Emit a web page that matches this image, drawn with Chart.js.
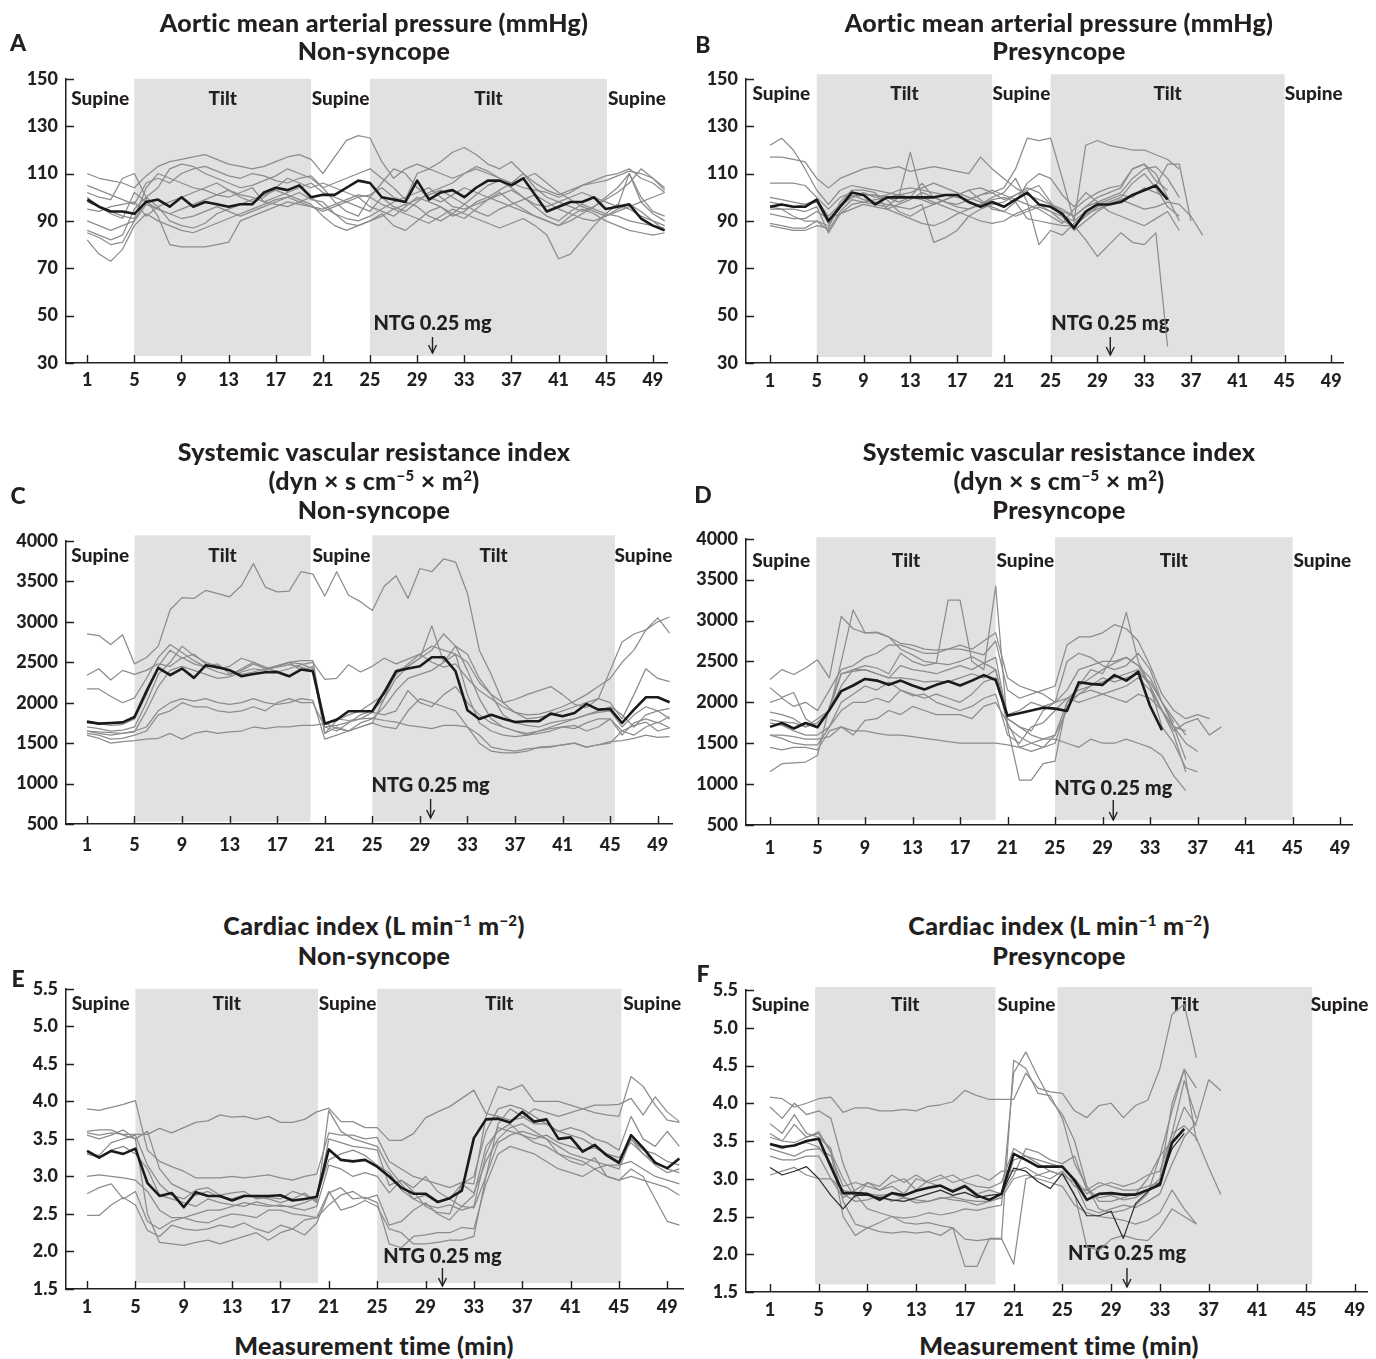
<!DOCTYPE html>
<html><head><meta charset="utf-8">
<script src="https://cdn.jsdelivr.net/npm/chart.js@4.4.1/dist/chart.umd.min.js"></script>
<style>
html,body{margin:0;padding:0;background:#fff;}
#wrap{position:relative;width:1376px;height:1359px;overflow:hidden;font-family:Lato,"DejaVu Sans",sans-serif;font-weight:900;color:#231f20;}
#charts canvas{position:absolute;}
.t{position:absolute;width:700px;text-align:center;font-size:25px;letter-spacing:0.3px;white-space:nowrap;}
.lt{position:absolute;font-size:23px;line-height:23px;transform:translate(-50%,-50%);}
sup{font-size:0.6em;line-height:0;vertical-align:0.6em;}
</style></head>
<body><div id="wrap">
<div id="charts"></div>
<div class="t" style="left:24px;top:8px;line-height:28px">Aortic mean arterial pressure (mmHg)<br>Non-syncope</div>
<div class="t" style="left:709px;top:8px;line-height:28px">Aortic mean arterial pressure (mmHg)<br>Presyncope</div>
<div class="t" style="left:24px;top:437px;line-height:29px">Systemic vascular resistance index<br>(dyn × s cm<sup>−5</sup> × m<sup>2</sup>)<br>Non-syncope</div>
<div class="t" style="left:709px;top:437px;line-height:29px">Systemic vascular resistance index<br>(dyn × s cm<sup>−5</sup> × m<sup>2</sup>)<br>Presyncope</div>
<div class="t" style="left:24px;top:910px;line-height:30px">Cardiac index (L min<sup>−1</sup> m<sup>−2</sup>)<br>Non-syncope</div>
<div class="t" style="left:709px;top:910px;line-height:30px">Cardiac index (L min<sup>−1</sup> m<sup>−2</sup>)<br>Presyncope</div>
<div class="t" style="left:24px;top:1331px;line-height:28px">Measurement time (min)</div>
<div class="t" style="left:709px;top:1331px;line-height:28px">Measurement time (min)</div>
<div class="lt" style="left:18px;top:42px">A</div>
<div class="lt" style="left:703px;top:44px">B</div>
<div class="lt" style="left:18px;top:495px">C</div>
<div class="lt" style="left:703px;top:494px">D</div>
<div class="lt" style="left:18px;top:978px">E</div>
<div class="lt" style="left:703px;top:973px">F</div>
</div>
<script>
// ---------- axis ticks & labels ----------
const xTicks = [1,5,9,13,17,21,25,29,33,37,41,45,49];
const xTickLabels = ['1','5','9','13','17','21','25','29','33','37','41','45','49'];
const yTicksMAP = [30,50,70,90,110,130,150];
const yTickLabelsMAP = ['30','50','70','90','110','130','150'];
const yTicksSVRI = [500,1000,1500,2000,2500,3000,3500,4000];
const yTickLabelsSVRI = ['500','1000','1500','2000','2500','3000','3500','4000'];
const yTicksCI = [1.5,2.0,2.5,3.0,3.5,4.0,4.5,5.0,5.5];
const yTickLabelsCI = ['1.5','2.0','2.5','3.0','3.5','4.0','4.5','5.0','5.5'];
const phaseNames = ['Supine','Tilt','Supine','Tilt','Supine'];
const ntgLabel = 'NTG 0.25 mg';
const ntgTime = [30.3, 30.1, 29.9, 29.9, 30.4, 30.3];
// phase boundaries (min)
const phaseEdgesA = [5,20,25,45.1];
const phaseEdgesB = [5,20,25,45];
const phaseEdgesC = [5,19.8,25,45.4];
const phaseEdgesD = [4.9,20,25,45];
const phaseEdgesE = [5,20.1,25,45.2];
const phaseEdgesF = [4.7,19.5,24.6,45.5];

// ---------- Panel A: MAP, non-syncope ----------
const meanA = [99,96,94,94,93, 98,99,96,100,96, 98,97,96,97,97, 102,104,103,105,100, 101,101,104,107,106, 100,99,98,107,99, 102,103,100,104,107, 107,105,108,101,94, 96,98,98,100,95, 96,97,91,88,86];
const a1 = [110,108,107,106,104, 109,113,115,116,117, 118,116,114,113,112, 113,115,117,118,116, 110,117,124,126,125, 115,108,112,114,112, 110,108,110,113,111, 108,106,104,103,102, 100,102,105,106,107, 109,111,110,108,104];
const a2 = [102,100,99,108,110, 100,104,112,114,113, 110,108,106,104,105, 107,109,112,110,108, 104,106,108,110,112, 108,104,99,110,112, 115,119,121,118,114, 112,115,110,106,103, 101,103,105,107,109, 110,112,108,106,102];
const a3 = [98,96,94,92,91, 104,110,108,106,104, 103,101,100,102,104, 98,100,102,104,106, 102,100,98,96,94, 100,96,94,98,102, 104,106,110,112,110, 108,106,110,104,100, 98,96,94,96,100, 104,110,100,94,92];
const a4 = [90,88,86,88,90, 97,95,93,95,97, 99,101,103,101,100, 98,97,96,98,100, 96,93,89,88,90, 92,95,97,99,101, 103,100,97,94,92, 95,97,99,101,98, 95,93,91,90,92, 95,97,94,90,86];
const a5 = [86,84,82,84,95, 100,96,90,88,87, 89,93,95,97,99, 101,103,101,99,97, 92,88,86,88,90, 93,88,86,90,94, 96,93,91,95,99, 102,98,95,92,90, 88,92,95,93,90, 88,86,85,84,85];
const a6 = [82,76,73,78,88, 93,90,88,86,85, 87,89,91,93,95, 97,99,100,98,96, 94,96,98,100,101, 104,100,98,96,92, 90,93,97,101,105, 107,104,100,96,92, 90,94,97,95,93, 92,90,89,88,87];
const a7 = [85,83,80,81,90, 99,92,80,79,79, 79,80,81,90,92, 94,96,98,97,96, 95,97,99,101,100, 97,95,93,91,89, 92,95,93,91,89, 87,89,91,88,84, 74,76,82,88,93, 97,95,92,90,88];
const a8 = [100,96,93,91,102, 98,95,93,91,92, 94,96,94,92,94, 96,98,100,102,99, 98,93,91,90,92, 95,98,100,102,104, 100,96,95,97,99, 101,103,100,97,96, 98,100,102,100,98, 96,110,98,93,90];
const a9 = [95,94,96,97,98, 92,96,98,100,102, 104,106,103,100,98, 100,104,108,106,104, 106,104,102,100,96, 94,92,96,100,98, 96,92,94,98,100, 98,96,94,92,90, 88,90,93,96,99, 102,106,112,108,103];
const a10 = [105,103,101,99,97, 106,108,106,110,112, 113,111,109,108,110, 109,107,106,108,109, 104,98,94,92,100, 106,112,110,104,100, 98,101,104,102,100, 103,106,108,110,106, 102,99,96,94,92, 94,96,98,100,102];

// ---------- Panel B: MAP, presyncope ----------
const meanB = [96,97,96,96,99, 90,96,102,101,97, 100,100,100,100,100, 101,101,98,96,98, 96,99,102,97,96, 93,87,94,97,97, 98,101,103,105,99];
const b1 = [122,125,120,112,103, 97,103,105,104,103, 102,101,100,99,97, 99,101,103,104,102, 104,112,125,124,125, 108,90,122,124,122, 121,120,120,118,116, 112];
const b2 = [117,117,116,115,108, 104,108,110,112,113, 112,113,111,112,113, 112,111,110,117,112, 108,104,101,99,97, 95,92,96,100,102, 104,112,114,107,103];
const b3 = [106,106,106,105,100, 95,100,102,101,101, 100,98,100,106,100, 98,97,99,101,103, 101,99,97,95,92, 89,95,99,102,104, 105,112,114,110,100, 90];
const b4 = [98,97,96,97,98, 89,96,101,99,98, 97,96,95,97,81, 83,86,92,95,97, 98,101,104,102,97, 94,92,96,98,100, 102,108,112,113,108, 100];
const b5 = [95,95,92,90,90, 86,94,99,98,97, 96,100,119,100,98, 96,94,92,90,89, 90,93,95,97,94, 90,88,92,96,98, 100,106,110,104,96, 92];
const b6 = [89,88,87,87,90, 88,96,100,101,101, 99,94,92,95,97, 99,101,103,99,95, 94,98,106,110,108, 101,96,102,98,94, 92,90,88,91,94, 86];
const b7 = [88,87,86,86,88, 87,98,103,103,102, 95,93,91,89,88, 90,93,95,97,99, 100,98,91,90,89, 88,88,82,75,80, 85,81,80,85,37];
const b8 = [93,92,91,91,94, 91,93,95,97,96, 95,97,99,102,100, 98,96,95,97,100, 102,108,98,80,86, 84,89,93,95,97, 99,97,95,96,98, 97,92,84];
const b9 = [100,99,98,97,99, 92,97,100,102,100, 101,103,104,103,102, 101,100,99,101,102, 99,101,103,105,98, 92,86,90,94,97, 99,101,103,105,114, 114,90];
const b10 = [96,95,95,94,96, 85,93,97,98,99, 100,101,102,104,106, 104,102,100,98,96, 94,92,94,96,94, 92,90,94,97,99, 101,100,104,102,100];

// ---------- Panel C: SVRI, non-syncope ----------
const meanC = [1766,1741,1749,1757,1823, 2140,2431,2340,2422,2307, 2464,2439,2402,2327,2356, 2377,2381,2327,2410,2389, 1741,1790,1894,1894,1894, 2129,2389,2422,2451,2563, 2563,2389,1906,1799,1852, 1803,1761,1770,1770,1865, 1832,1873,1985,1914,1923, 1749,1914,2067,2067,2005];
const c1 = [2850,2830,2720,2840,2480, 2560,2700,3150,3300,3290, 3390,3350,3310,3450,3720, 3430,3370,3380,3620,3590, 3320,3620,3330,3250,3140, 3440,3570,3290,3660,3620, 3780,3740,3350,2650,2350, 2000,2040,2100,2150,2200, 2100,1980,1940,2050,2400, 2750,2850,2900,3000,3060];
const c2 = [2340,2420,2280,2400,2350, 2400,2480,2450,2560,2480, 2440,2380,2340,2420,2500, 2440,2380,2420,2470,2500, 2290,2300,2470,2380,2450, 2550,2480,2540,2600,2500, 2440,2480,2300,2150,2050, 1950,1880,1850,1860,1900, 1950,2020,2100,2200,2300, 2500,2650,2900,3050,2860];
const c3 = [2170,2170,2080,2000,2060, 2300,2560,2720,2620,2520, 2440,2480,2360,2400,2480, 2420,2440,2470,2440,2400, 1620,1780,1850,1900,2000, 2100,2350,2480,2600,2700, 2650,2600,2500,2250,2100, 2000,1880,1800,1820,1850, 1900,1950,2000,2050,2000, 1800,2100,2420,2300,2260];
const c4 = [1700,1680,1650,1660,1700, 2000,2350,2500,2700,2580, 2500,2450,2400,2350,2380, 2420,2460,2500,2520,2520, 1700,1650,1750,1850,1900, 2050,2300,2450,2550,2950, 2500,2700,2400,2050,1800, 1700,1650,1600,1650,1700, 1750,1800,1850,1900,1950, 1850,1700,1850,1900,1930];
const c5 = [1650,1640,1630,1620,1640, 1900,2200,2400,2450,2400, 2350,2300,2320,2380,2420, 2400,2450,2500,2400,2450, 1620,1700,1650,1750,1800, 1950,2150,2300,2350,2400, 2500,2600,2100,1750,1650, 1600,1580,1600,1620,1650, 1700,1680,1750,1800,1800, 1600,1750,1800,1750,1830];
const c6 = [1620,1600,1550,1560,1600, 1650,1850,1900,2000,1950, 1950,1900,1880,1900,1950, 1900,2000,2050,2000,2000, 1700,1720,1760,1800,1880, 1850,1900,2150,2000,1950, 2100,2200,2000,1850,1750, 1700,1650,1620,1650,1680, 1700,1720,1650,1700,1800, 1650,1720,1760,1650,1690];
const c7 = [1600,1560,1500,1520,1530, 1550,1560,1620,1550,1620, 1650,1620,1640,1650,1700, 1680,1700,1700,1720,1720, 1740,1800,1780,1800,1810, 1780,1760,1720,1700,1680, 1720,1720,1700,1600,1450, 1420,1400,1430,1440,1450, 1480,1500,1450,1480,1520, 1530,1560,1600,1570,1580];
const c8 = [1650,1620,1600,1620,1650, 1700,1900,2000,2050,2020, 2050,2000,1980,2000,2050, 2000,1980,2000,2050,2030, 1550,1600,1650,1700,1750, 1700,1680,1900,2050,2000, 1950,1900,1700,1500,1400, 1380,1380,1400,1450,1460, 1480,1500,1450,1480,1500, 1650,1600,1700,1760,1690];
const c9 = [1750,1740,1720,1730,1800, 2100,2450,2650,2550,2600, 2480,2420,2450,2550,2500, 2420,2450,2500,2480,2420, 1750,1680,1650,1700,1750, 2050,2400,2450,2550,2650, 2850,2700,2600,2300,2100, 1850,1750,1720,1700,1750, 1780,1800,1850,1880,1900, 1700,1850,1950,1900,1800];

// ---------- Panel D: SVRI, presyncope ----------
const meanD = [1700,1748,1680,1748,1696, 1907,2138,2206,2286,2266, 2214,2266,2206,2158,2214, 2258,2206,2266,2333,2274, 1835,1867,1899,1935,1923, 1895,2246,2226,2214,2333, 2266,2373,1955,1660];
const d1 = [2280,2400,2340,2420,2520, 2300,3050,2900,2850,2850, 2800,2720,2700,2650,2640, 2650,2650,2620,2580,2750, 2150,2050,2100,2150,2200, 2700,2800,2800,2850,2950, 2900,2750,2450,2100,1900, 1800,1850,1800];
const d2 = [2180,2060,2120,1800,1700, 1900,2500,3130,2850,2860, 2800,2650,2580,2500,2480, 2460,2500,2560,2480,2550, 1800,1700,1600,1550,1600, 2000,2200,2400,2350,2600, 3100,2500,2200,1700,1500, 1200,1150];
const d3 = [1880,1850,1800,1700,1750, 1900,2200,2400,2450,2420, 2350,2600,2500,2450,2480, 3250,3250,2500,2400,3420, 1700,1580,1500,1450,1600, 1900,2200,2300,2400,2480, 2550,2450,2300,2000,1700, 1300];
const d4 = [1790,1760,1750,1700,1800, 1900,2350,2380,2400,2350, 2300,2450,2400,2380,2350, 2400,2450,2400,2480,2400, 1850,1900,2000,1950,2000, 2150,2400,2450,2500,2500, 2550,2450,2200,1900,1650, 1750,1800,1600,1700];
const d5 = [1750,1720,1650,1600,1600, 1700,2000,2100,2200,2150, 2250,2150,2100,2050,2100, 2050,2000,2100,2250,2300, 1800,1700,1650,1900,2000, 2050,2150,2200,2300,2250, 2300,2350,2250,2000,1800, 1600];
const d6 = [1600,1560,1500,1480,1480, 1700,1900,2000,2000,2050, 2000,2150,2080,2100,2000, 1950,1900,1950,2050,2100, 1600,1500,1700,1750,1900, 2050,2000,2050,2100,2150, 2200,2300,2150,1900,1700, 1500,1400];
const d7 = [1450,1420,1450,1450,1420, 1650,1700,1600,1780,1800, 1900,1850,1950,1900,1850, 1850,1850,1800,1950,2000, 1750,1450,1400,1450,1500, 1950,2100,2150,2100,2050, 2000,2100,2050,1900,1600, 1150];
const d8 = [1150,1250,1260,1270,1350, 1950,2350,2400,2400,2350, 2300,2300,2280,2250,2260, 2250,2300,2350,2300,2400, 1700,1050,1050,1250,1280, 2000,2100,2200,2250,2300, 2350,2400,2200,1900,1700, 1650];
const d9 = [1600,1600,1580,1550,1550, 1580,1700,1650,1650,1620, 1600,1600,1580,1560,1540, 1520,1500,1500,1500,1500, 1480,1450,1500,1550,1550, 1500,1450,1550,1500,1500, 1550,1500,1450,1350,1100, 920];
const d10 = [2000,2050,1950,2000,1900, 2150,2400,2450,2550,2600, 2700,2700,2650,2600,2600, 2650,2700,2650,2750,2850, 2300,2200,2150,2100,2000, 2500,2600,2550,2450,2400, 2450,2600,2400,2000,1750];

// ---------- Panel E: CI, non-syncope ----------
const meanE = [3.34,3.25,3.34,3.30,3.37, 2.91,2.74,2.78,2.59,2.79, 2.74,2.74,2.68,2.74,2.74, 2.74,2.75,2.68,2.70,2.73, 3.36,3.22,3.20,3.22,3.13, 3.00,2.85,2.77,2.77,2.66, 2.71,2.81,3.51,3.76,3.77, 3.72,3.86,3.73,3.76,3.50, 3.52,3.33,3.42,3.28,3.18, 3.55,3.38,3.18,3.11,3.24];
const e1 = [3.58,3.55,3.58,3.56,3.56, 3.56,3.64,3.58,3.65,3.72, 3.74,3.82,3.79,3.80,3.76, 3.80,3.72,3.72,3.76,3.86, 3.91,3.73,3.73,3.65,3.65, 3.48,3.48,3.57,3.78,3.86, 3.93,4.04,4.15,3.84,3.80, 3.75,3.78,3.90,3.85,3.80, 3.85,3.90,3.95,3.95,3.96, 4.04,3.82,4.06,3.86,3.73];
const e2 = [3.90,3.88,3.92,3.96,4.01, 3.35,3.20,3.13,3.07,2.98, 2.98,2.98,3.00,2.98,3.00, 3.02,2.98,2.95,3.00,3.03, 3.58,3.55,3.55,3.50,3.52, 3.20,3.10,3.00,2.95,2.90, 2.85,2.92,2.90,3.80,4.20, 4.15,4.22,4.00,4.00,4.00, 3.95,3.90,3.85,3.82,3.80, 4.33,4.20,3.95,3.75,3.72];
const e3 = [3.55,3.50,3.55,3.62,3.50, 3.60,3.10,2.90,2.82,2.75, 2.80,2.72,2.70,2.75,2.72, 2.70,2.65,2.70,2.78,2.65, 3.88,3.60,3.50,3.45,3.40, 3.10,2.90,2.70,2.75,2.65, 2.70,2.60,2.58,3.00,3.70, 3.90,3.80,3.70,3.70,3.60, 3.55,3.50,3.40,3.30,3.20, 3.50,3.35,3.30,3.20,3.15];
const e4 = [3.30,3.25,3.35,3.40,3.30, 3.10,2.75,2.70,2.65,2.60, 2.70,2.65,2.62,2.60,2.66, 2.62,2.60,2.60,2.65,2.72, 3.22,3.30,3.35,3.28,3.15, 3.05,2.82,2.70,2.62,2.58, 2.62,2.55,2.60,3.30,3.65, 3.60,3.55,3.50,3.55,3.45, 3.40,3.35,3.38,3.30,3.25, 3.45,3.30,3.15,3.05,3.10];
const e5 = [3.00,3.02,3.00,2.98,2.95, 2.80,2.55,2.45,2.45,2.50, 2.55,2.55,2.60,2.65,2.62, 2.60,2.62,2.58,2.55,2.60, 3.15,3.10,3.00,3.05,3.00, 2.78,2.95,2.85,3.00,2.80, 2.70,2.90,2.78,3.20,3.50, 3.65,3.70,3.60,3.50,3.30, 3.20,3.15,3.25,3.00,2.95, 3.00,2.95,2.90,2.85,2.75];
const e6 = [2.77,2.85,2.90,2.70,2.80, 2.40,2.30,2.40,2.45,2.40, 2.38,2.45,2.50,2.48,2.45, 2.55,2.55,2.50,2.48,2.45, 2.62,2.75,2.80,2.70,2.75, 2.35,2.40,2.55,2.65,2.50, 2.42,2.60,2.75,3.40,3.60, 3.70,3.55,3.45,3.40,3.30, 3.25,3.20,3.10,3.00,2.95, 3.10,3.00,2.70,2.40,2.35];
const e7 = [2.48,2.48,2.62,2.72,2.62, 2.28,2.20,2.35,2.30,2.28, 2.30,2.35,2.32,2.38,2.30, 2.25,2.35,2.30,2.22,2.38, 2.78,2.85,2.70,2.72,2.65, 2.10,2.05,2.20,2.22,2.25, 2.25,2.32,2.30,2.90,3.30, 3.40,3.35,3.30,3.20,3.10, 3.05,3.00,3.10,3.15,3.15, 3.20,3.10,3.00,2.95,2.90];
const e8 = [3.60,3.62,3.62,3.55,3.50, 2.50,2.12,2.10,2.08,2.12, 2.15,2.10,2.15,2.20,2.25, 2.15,2.25,2.30,2.42,2.45, 2.80,2.55,2.60,2.68,2.60, 2.30,2.25,2.10,2.10,2.12, 2.15,2.15,2.20,3.00,3.45, 3.55,3.60,3.55,3.50,3.40, 3.30,3.25,3.20,3.15,3.10, 3.50,3.30,3.20,3.10,3.05];
const e9 = [3.30,3.28,3.45,3.50,3.55, 3.15,2.90,2.75,2.70,2.82, 2.85,2.75,2.78,2.80,2.70, 2.72,2.70,2.80,2.75,2.68, 3.50,3.45,3.40,3.38,3.35, 2.88,2.95,2.80,2.60,2.52, 2.50,2.90,3.00,3.60,3.90, 3.95,3.90,3.80,3.70,3.60, 3.65,3.60,3.50,3.45,3.35, 3.80,3.50,3.40,3.60,3.40];

// ---------- Panel F: CI, presyncope ----------
const meanF = [3.46,3.42,3.44,3.50,3.53, 3.16,2.81,2.81,2.80,2.72, 2.81,2.78,2.84,2.88,2.91, 2.83,2.90,2.78,2.72,2.80, 3.33,3.25,3.16,3.16,3.16, 2.98,2.72,2.80,2.81,2.79, 2.79,2.85,2.92,3.48,3.66];
const darkF = [3.15,3.05,3.10,3.16,3.00, 2.78,2.60,2.78,2.78,2.75, 2.72,2.70,2.75,2.80,2.85, 2.78,2.82,2.75,2.78,2.80, 3.14,3.10,2.96,2.87,3.07, 2.78,2.51,2.51,2.57,2.21, 2.67,2.83,2.95,3.40,3.60];
const f1 = [4.08,4.06,3.95,4.00,4.06, 4.08,3.88,3.94,3.94,3.90, 3.90,3.92,3.90,3.96,3.98, 4.02,4.17,4.10,4.05,4.05, 4.05,4.40,4.20,4.15,4.13, 3.90,3.81,3.97,4.00,3.81, 3.97,4.04,4.46,5.18,5.31, 4.60];
const f2 = [3.95,3.80,4.00,3.85,3.90, 3.80,3.20,2.80,2.60,2.55, 2.50,2.48,2.50,2.55,2.52, 2.55,2.60,2.58,2.62,2.65, 4.40,4.68,4.35,4.05,3.85, 3.50,2.90,2.60,2.55,2.58, 2.65,2.80,3.30,3.90,4.45, 4.20];
const f3 = [3.73,3.60,3.85,3.60,3.55, 3.40,2.70,2.40,2.35,2.30, 2.28,2.30,2.28,2.30,2.25, 2.35,2.20,2.18,2.20,2.20, 4.57,4.46,4.13,4.10,3.80, 3.20,2.90,2.70,2.70,2.75, 2.80,3.00,3.30,3.50,3.95, 3.70];
const f4 = [3.60,3.50,3.72,3.55,3.62, 3.35,2.50,2.25,2.35,2.42, 2.50,2.42,2.40,2.42,2.38, 2.35,1.84,1.84,2.21,2.21, 1.87,3.00,3.05,3.10,3.05, 2.80,2.10,2.05,2.20,2.25, 2.20,2.18,2.35,2.60,2.50, 2.40];
const f5 = [3.55,3.50,3.48,3.55,3.60, 3.35,3.00,2.75,2.95,2.85, 2.90,2.80,3.00,2.95,3.00, 3.05,2.95,2.90,2.88,2.95, 3.40,3.30,3.25,3.20,3.15, 3.00,2.80,2.90,2.95,2.90, 2.95,3.05,3.10,3.60,3.70, 3.54,3.15,2.79];
const f6 = [3.45,3.40,3.45,3.48,3.42, 3.20,2.80,2.70,2.72,2.78, 2.70,2.75,2.68,2.70,2.75, 2.72,2.70,2.65,2.70,2.75, 3.25,3.30,3.20,3.10,3.05, 2.95,2.60,2.55,2.60,2.65, 2.62,2.70,2.80,3.20,3.55, 3.75,4.31,4.17];
const f7 = [3.40,3.35,3.30,3.38,3.40, 3.30,2.90,2.95,2.90,2.85, 2.95,3.00,2.85,2.98,3.05, 2.95,3.00,3.05,2.98,3.10, 3.10,3.15,3.05,3.00,3.10, 2.90,2.85,2.75,2.78,2.72, 2.75,2.85,3.00,4.00,4.45, 3.50];
const f8 = [3.30,3.25,3.25,3.30,3.30, 3.00,2.75,2.85,2.95,2.90, 3.05,2.95,3.05,2.95,2.90, 2.85,2.92,2.80,2.85,2.80, 3.05,3.40,3.35,3.25,3.20, 3.30,2.85,2.95,2.90,2.85, 2.85,2.90,2.95,3.60,4.30, 3.80];
const f9 = [3.05,3.10,3.15,3.05,3.00, 3.00,2.85,2.80,2.80,2.78, 2.80,2.75,2.72,2.70,2.74, 2.76,2.72,2.70,2.70,2.75, 3.00,3.05,3.00,2.95,2.90, 2.65,2.55,2.50,2.48,2.45, 2.40,2.45,2.55,2.85,2.60, 2.40];

// ---------- layout (style only) ----------
const panels = [
  {left:0,   top:60,  w:688, h:340, padT:13, padR:21, yW:66, xH:37, xMin:-0.8,  xMax:50.2, yMin:30,  yMax:150,  yTicks:yTicksMAP,  yLabels:yTickLabelsMAP,  edges:phaseEdgesA, shadeTop:150, shadeBot:33, mean:meanA, gray:[a1,a2,a3,a4,a5,a6,a7,a8,a9,a10], labelDy:20, ntg:ntgTime[0], ntgDy:39, arT:26, arB:10, xPad:6},
  {left:688, top:60,  w:688, h:340, padT:19, padR:33, yW:58, xH:37, xMin:-1.05, xMax:50.0, yMin:30,  yMax:150,  yTicks:yTicksMAP,  yLabels:yTickLabelsMAP,  edges:phaseEdgesB, shadeTop:152, shadeBot:32.5, mean:meanB, gray:[b1,b2,b3,b4,b5,b6,b7,b8,b9,b10], labelDy:15, ntg:ntgTime[1], ntgDy:39, arT:26, arB:8, xPad:7},
  {left:0,   top:520, w:688, h:340, padT:21, padR:16, yW:66, xH:36, xMin:-0.76, xMax:50.2, yMin:500, yMax:4000, yTicks:yTicksSVRI, yLabels:yTickLabelsSVRI, edges:phaseEdgesC, shadeTop:4070, shadeBot:530, mean:meanC, gray:[c1,c2,c3,c4,c5,c6,c7,c8,c9], labelDy:15, ntg:ntgTime[2], ntgDy:38, arT:25, arB:6, xPad:10},
  {left:688, top:520, w:688, h:340, padT:13, padR:24, yW:58, xH:35, xMin:-1.02, xMax:50.0, yMin:500, yMax:4000, yTicks:yTicksSVRI, yLabels:yTickLabelsSVRI, edges:phaseEdgesD, shadeTop:4020, shadeBot:559, mean:meanD, gray:[d1,d2,d3,d4,d5,d6,d7,d8,d9,d10], labelDy:22, ntg:ntgTime[3], ntgDy:36, arT:25, arB:5, xPad:12},
  {left:0,   top:970, w:688, h:350, padT:15, padR:5,  yW:66, xH:31, xMin:-0.74, xMax:50.3, yMin:1.5, yMax:5.5,  yTicks:yTicksCI,   yLabels:yTickLabelsCI,   edges:phaseEdgesE, shadeTop:5.5, shadeBot:1.58, mean:meanE, gray:[e1,e2,e3,e4,e5,e6,e7,e8,e9], labelDy:15, ntg:ntgTime[4], ntgDy:32, arT:21, arB:3, xPad:7},
  {left:688, top:970, w:688, h:350, padT:20, padR:9,  yW:58, xH:28, xMin:-0.97, xMax:50.0, yMin:1.5, yMax:5.5,  yTicks:yTicksCI,   yLabels:yTickLabelsCI,   edges:phaseEdgesF, shadeTop:5.54, shadeBot:1.6, mean:meanF, dark:darkF, gray:[f1,f2,f3,f4,f5,f6,f7,f8,f9], labelDy:15, ntg:ntgTime[5], ntgDy:38, arT:24, arB:5, xPad:7}
];

const INK = '#231f20';
const FONT = 'Lato, "DejaVu Sans", sans-serif';
const W = '900';

const panelPlugin = {
  id: 'panelDeco',
  beforeDatasetsDraw(chart, args, p) {
    const {ctx, chartArea} = chart;
    const x = chart.scales.x, y = chart.scales.y;
    ctx.save();
    // tilt shading
    ctx.fillStyle = '#e0e1e3';
    const e = p.edges;
    [[e[0], e[1]], [e[2], e[3]]].forEach(([a, b]) => {
      const x0 = x.getPixelForValue(a), x1 = x.getPixelForValue(b);
      const y0 = y.getPixelForValue(p.shadeTop), y1 = y.getPixelForValue(p.shadeBot);
      ctx.fillRect(x0, y0, x1 - x0, y1 - y0);
    });
    // phase labels
    ctx.fillStyle = INK;
    ctx.font = W + ' 19px ' + FONT;
    ctx.textAlign = 'center';
    ctx.textBaseline = 'middle';
    const b = [p.xMin, ...e, p.xMax];
    phaseNames.forEach((n, i) => {
      const cx = (x.getPixelForValue(b[i]) + x.getPixelForValue(b[i + 1])) / 2;
      ctx.fillText(n, cx, chartArea.top + p.labelDy);
    });
    // NTG annotation
    const nx = x.getPixelForValue(p.ntg);
    ctx.font = W + ' 20px ' + FONT;
    ctx.fillText(ntgLabel, nx, chartArea.bottom - p.ntgDy);
    ctx.strokeStyle = INK; ctx.lineWidth = 1.4;
    const yt = chartArea.bottom - p.arT, yb = chartArea.bottom - p.arB;
    ctx.beginPath(); ctx.moveTo(nx, yt); ctx.lineTo(nx, yb); ctx.stroke();
    ctx.beginPath(); ctx.moveTo(nx - 4, yb - 8); ctx.lineTo(nx, yb); ctx.lineTo(nx + 4, yb - 8); ctx.stroke();
    ctx.restore();
  },
  afterDraw(chart, args, p) {
    const {ctx, chartArea} = chart;
    const x = chart.scales.x, y = chart.scales.y;
    ctx.save();
    ctx.strokeStyle = INK; ctx.lineWidth = 1.4;
    ctx.beginPath();
    xTicks.forEach(v => { const px = Math.round(x.getPixelForValue(v)) + 0.5; ctx.moveTo(px, chartArea.bottom); ctx.lineTo(px, chartArea.bottom - 8); });
    p.yTicks.forEach(v => { const py = Math.round(y.getPixelForValue(v)) + 0.5; ctx.moveTo(chartArea.left, py); ctx.lineTo(chartArea.left + 8, py); });
    ctx.stroke();
    ctx.restore();
  }
};

function toXY(arr) { return arr.map((v, i) => ({x: i + 1, y: v})); }

function build(p) {
  const cv = document.createElement('canvas');
  cv.width = p.w; cv.height = p.h;
  cv.style.left = p.left + 'px'; cv.style.top = p.top + 'px';
  cv.style.width = p.w + 'px'; cv.style.height = p.h + 'px';
  document.getElementById('charts').appendChild(cv);
  const ds = [{data: toXY(p.mean), borderColor: '#1a1a1a', borderWidth: 2.6}];
  if (p.dark) ds.push({data: toXY(p.dark), borderColor: '#2a2a2a', borderWidth: 1.2});
  p.gray.forEach(g => ds.push({data: toXY(g), borderColor: '#8c8c8c', borderWidth: 1.25}));
  const tickFont = {family: FONT, size: 18, weight: W};
  new Chart(cv, {
    type: 'line',
    data: {datasets: ds.map(d => Object.assign({pointRadius: 0, fill: false, tension: 0, borderJoinStyle: 'round'}, d))},
    options: {
      responsive: false, animation: false, devicePixelRatio: 1,
      layout: {padding: {left: 0, top: p.padT, right: p.padR, bottom: 0}},
      plugins: {legend: {display: false}, tooltip: {enabled: false}, panelDeco: p},
      scales: {
        x: {
          type: 'linear', min: p.xMin, max: p.xMax,
          afterBuildTicks: s => { s.ticks = xTicks.map(v => ({value: v})); },
          afterFit: s => { s.height = p.xH; },
          grid: {display: false, drawTicks: false},
          border: {display: true, color: INK, width: 1.5},
          ticks: {font: tickFont, color: INK, padding: p.xPad, autoSkip: false, maxRotation: 0,
                  callback: (v) => xTickLabels[xTicks.indexOf(v)]}
        },
        y: {
          type: 'linear', min: p.yMin, max: p.yMax,
          afterBuildTicks: s => { s.ticks = p.yTicks.map(v => ({value: v})); },
          afterFit: s => { s.width = p.yW; },
          grid: {display: false, drawTicks: false},
          border: {display: true, color: INK, width: 1.5},
          ticks: {font: tickFont, color: INK, padding: 8, autoSkip: false,
                  callback: (v) => p.yLabels[p.yTicks.indexOf(v)]}
        }
      }
    },
    plugins: [panelPlugin]
  });
}

function go() { panels.forEach(build); }
if (document.fonts && document.fonts.load) {
  Promise.all([document.fonts.load('900 18px Lato'), document.fonts.load('900 25px Lato')]).then(go, go);
} else { go(); }
</script>
</body></html>
